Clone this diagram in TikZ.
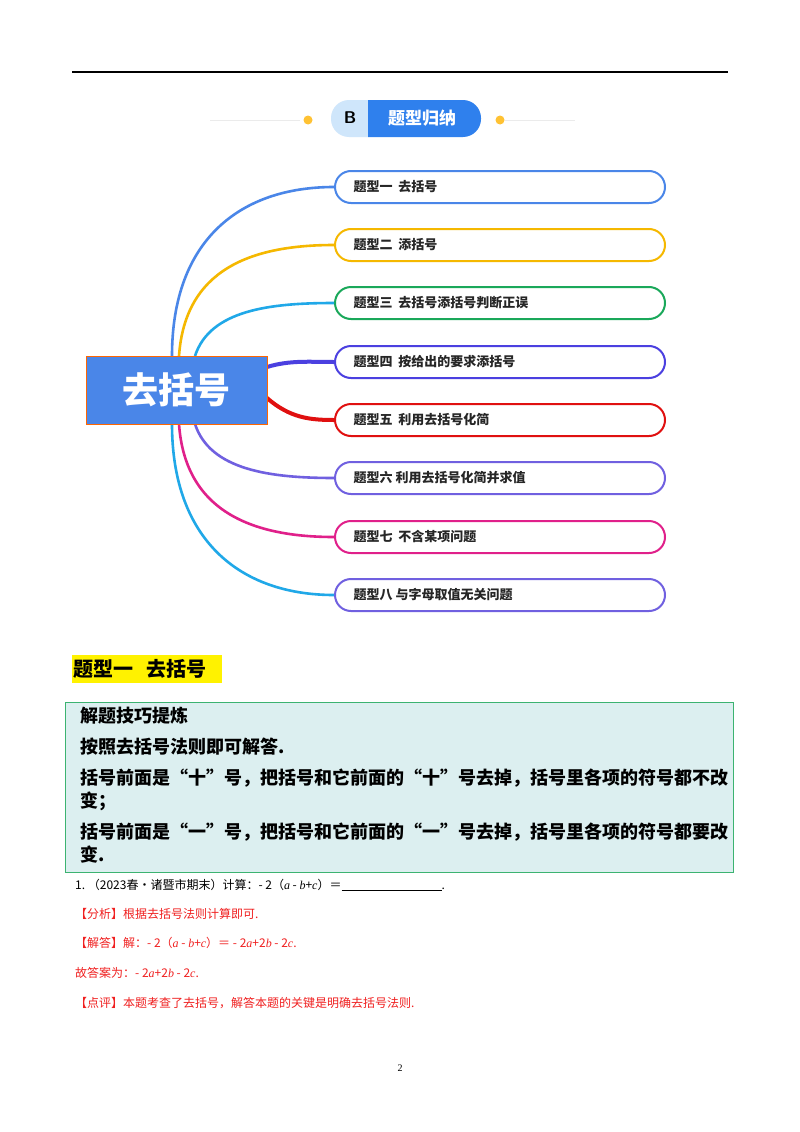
\documentclass[tikz,border=0pt]{standalone}
\usepackage{fontspec}
\setmainfont{Liberation Serif}
\newfontfamily\cjk{Noto Sans CJK SC}
\newfontfamily\lserif{Liberation Serif}
\newcommand{\vv}[1]{{\lserif\itshape #1}}
\usetikzlibrary{calc}
\definecolor{cblue}{HTML}{4A86E8}
\definecolor{cgold}{HTML}{F5B800}
\definecolor{cgreen}{HTML}{1AA85A}
\definecolor{cindigo}{HTML}{4B40E0}
\definecolor{cred}{HTML}{E01010}
\definecolor{cpurple}{HTML}{7060E0}
\definecolor{cpink}{HTML}{E0208A}
\definecolor{ccyan}{HTML}{20A8E8}
\definecolor{boxfill}{HTML}{DCEFF0}
\definecolor{boxline}{HTML}{3CB371}
\definecolor{ans}{HTML}{F02020}
\definecolor{hdark}{HTML}{2F80ED}
\definecolor{hlight}{HTML}{CFE6FB}
\tikzset{
 branch/.style={draw=#1,line width=2pt,rounded corners=16pt,minimum width=330pt,minimum height=32pt,fill=white},
 btext/.style={anchor=west,font=\cjk\bfseries\fontsize{13}{15}\selectfont,text=black!85},
 conn/.style={draw=#1,line width=2.6pt},
 tip/.style={anchor=west,font=\cjk\bfseries\fontsize{18}{20}\selectfont,inner sep=0},
 qline/.style={anchor=west,font=\cjk\fontsize{12}{14}\selectfont,inner sep=0},
 center/.style={draw=orange!80!red,line width=1pt,fill=cblue,minimum width=181pt,minimum height=68pt,font=\cjk\bfseries\fontsize{36}{38}\selectfont,text=white,inner sep=0},
}
\begin{document}
\begin{tikzpicture}[x=1pt,y=-1pt]
\useasboundingbox (0,0) rectangle (800,1132);
\fill[white] (0,0) rectangle (800,1132);
\draw[line width=1.3pt] (72,72) -- (728,72);
% header
\draw[black!8,line width=1pt] (210,120) -- (300,120);
\draw[black!8,line width=1pt] (505,120) -- (575,120);
\fill[orange!60!yellow!80] (308,120) circle (4.5pt);
\fill[orange!60!yellow!80] (500,120) circle (4.5pt);
\begin{scope}
\clip (331,100) rectangle (368,138);
\fill[hlight,rounded corners=18pt] (331,100) rectangle (481,137);
\end{scope}
\begin{scope}
\clip (368,90) rectangle (490,140);
\fill[hdark,rounded corners=18pt] (331,100) rectangle (481,137);
\end{scope}
\node[font=\sffamily\bfseries\fontsize{17}{18}\selectfont] (hb) at (350,118) {B};
\node[font=\cjk\bfseries\fontsize{17}{18}\selectfont,text=white] (ht) at (422,118) {题型归纳};
% branches
\foreach \i/\y/\col/\txt in {1/187/cblue/题型一\ \ 去括号,2/245/cgold/题型二\ \ 添括号,3/303/cgreen/题型三\ \ 去括号添括号判断正误,4/362/cindigo/题型四\ \ 按给出的要求添括号,5/420/cred/题型五\ \ 利用去括号化简,6/478/cpurple/题型六 利用去括号化简并求值,7/537/cpink/题型七\ \ 不含某项问题,8/595/cpurple/题型八 与字母取值无关问题}{
 \node[branch=\col] (b\i) at (500,\y) {};
 \node[btext] (t\i) at (350,\y) {\txt};
}
\draw[conn=cblue] (172,356) .. controls (172,240) and (240,187) .. (b1.west);
\draw[conn=cgold] (179,356) .. controls (185,270) and (250,245) .. (b2.west);
\draw[conn=ccyan] (195,356) .. controls (210,310) and (270,303) .. (b3.west);
\draw[conn=cindigo,line width=4pt] (267,367) .. controls (290,360) and (310,362) .. (b4.west);
\draw[conn=cred,line width=4pt] (267,398) .. controls (290,418) and (310,420) .. (b5.west);
\draw[conn=cpurple] (195,424) .. controls (210,470) and (270,478) .. (b6.west);
\draw[conn=cpink] (179,424) .. controls (185,510) and (250,537) .. (b7.west);
\draw[conn=ccyan] (172,424) .. controls (172,540) and (240,595) .. (b8.west);
\node[center] (c) at (176.5,390) {去括号};
% section title
\fill[yellow] (72,655) rectangle (222,683);
\node[anchor=west,inner sep=0,font=\cjk\bfseries\fontsize{20}{22}\selectfont] (st) at (73,669) {题型一\ \ \ 去括号};
% tip box
\node[draw=boxline,line width=1.3pt,fill=boxfill,minimum width=668pt,minimum height=170pt,anchor=north west] (tb) at (65,702) {};
\node[tip] (l1) at (80,716) {解题技巧提炼};
\node[tip] (l2) at (80,747) {按照去括号法则即可解答.};
\node[tip] (l3) at (80,778) {括号前面是“十”号，把括号和它前面的“十”号去掉，括号里各项的符号都不改};
\node[tip] (l4) at (80,801) {变；};
\node[tip] (l5) at (80,832) {括号前面是“一”号，把括号和它前面的“一”号去掉，括号里各项的符号都要改};
\node[tip] (l6) at (80,855) {变.};
% question
\node[qline] (q1) at (75,885) {1.\ （2023春•诸暨市期末）计算：- 2（\vv{a} - \vv{b}+\vv{c}）＝\rule[-2pt]{100pt}{0.8pt}.};
\node[qline,text=ans] (q2) at (75,914) {【分析】根据去括号法则计算即可.};
\node[qline,text=ans] (q3) at (75,943) {【解答】解：- 2（\vv{a} - \vv{b}+\vv{c}）＝ - 2\vv{a}+2\vv{b} - 2\vv{c}.};
\node[qline,text=ans] (q4) at (75,973) {故答案为：- 2\vv{a}+2\vv{b} - 2\vv{c}.};
\node[qline,text=ans] (q5) at (75,1003) {【点评】本题考查了去括号，解答本题的关键是明确去括号法则.};
\node[font=\fontsize{10}{12}\selectfont] (pg) at (400,1068) {2};
\end{tikzpicture}
\end{document}
